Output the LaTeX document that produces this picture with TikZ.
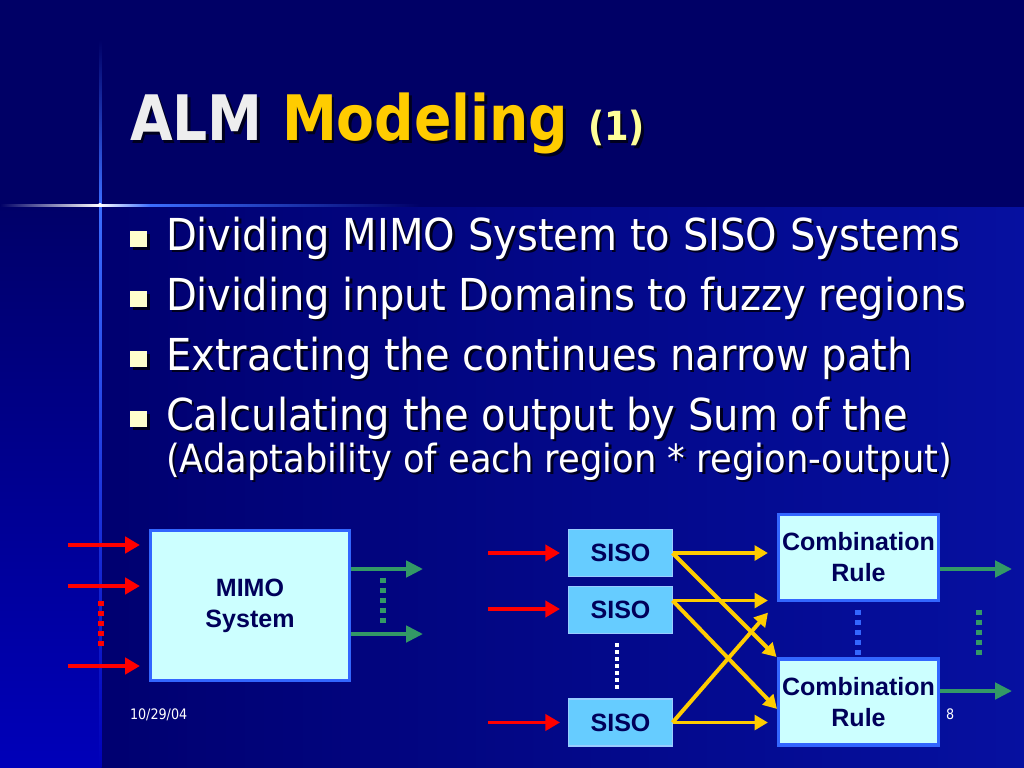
\documentclass[tikz,border=0pt]{standalone}
\usepackage{fontspec}
\setmainfont{DejaVu Sans}[FakeStretch=0.88]
\newfontfamily\bulletfont{DejaVu Sans}[FakeStretch=0.91]
\newfontfamily\arialfont{Liberation Sans}
\usetikzlibrary{arrows.meta}

\definecolor{slidetop}{RGB}{0,0,102}
\definecolor{lowleft}{RGB}{0,0,112}
\definecolor{lowright}{RGB}{6,16,160}
\definecolor{striptop}{RGB}{0,0,105}
\definecolor{stripbot}{RGB}{0,0,185}
\definecolor{crossblue}{RGB}{60,110,255}
\definecolor{shadowcol}{RGB}{0,0,30}
\definecolor{titlegray}{RGB}{238,238,238}
\definecolor{titlegold}{RGB}{255,204,0}
\definecolor{titlepale}{RGB}{255,255,153}
\definecolor{bulletcol}{RGB}{255,255,204}
\definecolor{boxedge}{RGB}{51,102,255}
\definecolor{boxfill}{RGB}{204,255,255}
\definecolor{sisoedge}{RGB}{153,204,255}
\definecolor{sisofill}{RGB}{102,204,255}
\definecolor{boxtext}{RGB}{0,0,90}
\definecolor{arrowred}{RGB}{255,0,0}
\definecolor{arrowyel}{RGB}{255,204,0}
\definecolor{arrowgrn}{RGB}{51,153,102}

% text with a drop shadow: name, position, style, text
\newcommand\shtext[4]{%
  \node[#3, text=shadowcol, shift={(2.5,2.5)}] (#1-sh) at #2 {#4};
  \node[#3] (#1) at #2 {#4};}

\begin{document}
\begin{tikzpicture}[x=0.025cm, y=-0.025cm,
    every node/.style = {inner sep=0pt, outer sep=0pt},
    redarrow/.style   = {line width=2.8pt, draw=arrowred, -{Triangle[length=10.5pt,width=11.5pt]}},
    yelarrow/.style   = {line width=2.8pt, draw=arrowyel, -{Triangle[length=9.5pt,width=10.5pt]}},
    grnarrow/.style   = {line width=2.8pt, draw=arrowgrn, -{Triangle[length=12pt,width=11.5pt]}},
    dots/.style       = {line width=3.6pt, dash pattern=on 3.56pt off 3.56pt},
    boxfont/.style    = {font=\arialfont\bfseries\fontsize{17.8}{22}\selectfont, text=boxtext, align=center},
    bigbox/.style     = {boxfont, draw=boxedge, line width=2.2pt, fill=boxfill},
    sisobox/.style    = {boxfont, draw=sisoedge, line width=0.9pt, fill=sisofill,
                         minimum width=2.6cm, minimum height=1.18cm},
    title/.style      = {anchor=base west, font=\bfseries\fontsize{44.6}{48}\selectfont},
    bullet/.style     = {anchor=base west, text=white, font=\bulletfont\fontsize{31.3}{36}\selectfont},
    small/.style      = {anchor=base west, text=white, font=\fontsize{10.3}{12}\selectfont}]
    \useasboundingbox (0,0) rectangle (1024,768);

    % background
    \fill[slidetop] (0,0) rectangle (1024,768);
    \shade[left color=lowleft, right color=lowright] (100,207) rectangle (1024,768);
    \shade[top color=striptop, bottom color=stripbot] (0,207) rectangle (100,768);
    \shade[top color=slidetop, bottom color=crossblue] (99,40) rectangle (101.5,205);
    \shade[top color=crossblue, bottom color=stripbot] (99,205) rectangle (101.5,768);
    \shade[left color=slidetop, right color=white] (0,204) rectangle (100,206.5);
    \shade[left color=white, right color=crossblue] (100,204) rectangle (150,206.5);
    \shade[left color=crossblue, right color=slidetop] (150,204) rectangle (420,206.5);
    \fill[white] (100,205) circle (2);

    % title
    \shtext{alm}{(130,141)}{title, text=titlegray}{ALM}
    \shtext{modeling}{(282,141)}{title, text=titlegold}{Modeling}
    \shtext{part}{(588,141)}{title, text=titlepale, font=\bfseries\fontsize{28.5}{30}\selectfont}{(1)}

    % bullets
    \foreach \b/\n in {250/1, 310/2, 370/3, 430/4} {
        \fill[shadowcol] (132.5,\b-16.5) rectangle +(17,16);
        \fill[bulletcol] (130,\b-19) rectangle +(17,16);
    }
    \shtext{bul1}{(166,250)}{bullet}{Dividing MIMO System to SISO Systems}
    \shtext{bul2}{(166,310)}{bullet}{Dividing input Domains to fuzzy regions}
    \shtext{bul3}{(166,370)}{bullet}{Extracting the continues narrow path}
    \shtext{bul4}{(166,430)}{bullet}{Calculating the output by Sum of the}
    \shtext{bul5}{(166,472)}{bullet, font=\bulletfont\fontsize{27.6}{32}\selectfont}{(Adaptability of each region * region-output)}

    % left diagram
    \node[bigbox, minimum width=4.975cm, minimum height=3.75cm] (mimo) at (250,605.5) {MIMO\\System};
    \coordinate (in1) at (68,545);
    \coordinate (in2) at (68,586);
    \coordinate (in3) at (68,666);
    \coordinate (out3) at (423,569);
    \coordinate (out4) at (423,634);
    \foreach \c in {in1,in2,in3}
        \draw[redarrow, shorten >=7.5pt] (\c) -- (\c -| mimo.west);
    \foreach \c in {out3,out4}
        \draw[grnarrow, shorten <=1.1pt] (\c -| mimo.east) -- (\c);
    \draw[dots, arrowred] (101,601) -- (101,647);
    \draw[dots, arrowgrn] (383,577.5) -- (383,622.5);

    % right diagram
    \node[sisobox] (siso1) at (620.5,553) {SISO};
    \node[sisobox] (siso2) at (620.5,610) {SISO};
    \node[sisobox] (siso3) at (620.5,722.5) {SISO};
    \node[bigbox, minimum width=4cm, minimum height=2.15cm] (comb1) at (858.5,557.5) {Combination\\Rule};
    \node[bigbox, minimum width=4cm, minimum height=2.15cm] (comb2) at (858.5,702) {Combination\\Rule};
    \coordinate (in4) at (488,553);
    \coordinate (in5) at (488,609);
    \coordinate (in6) at (488,722.5);
    \coordinate (out1) at (1012,569);
    \coordinate (out2) at (1012,691);
    \foreach \c in {in4,in5,in6}
        \draw[redarrow, shorten >=6pt] (\c) -- (\c -| siso1.west);

    \draw[yelarrow, shorten >=7.5pt] (siso1.east) -- (siso1.east -| comb1.west);
    \draw[yelarrow, shorten >=2pt] (siso1.east) -- (comb2.north west);
    \draw[yelarrow, shorten >=7.5pt] (siso2.east |- comb1.south) -- (comb1.south west);
    \draw[yelarrow, shorten >=1.5pt] (siso2.east |- comb1.south) -- ([yshift=-6pt]comb2.west);
    \draw[yelarrow, shorten >=11.4pt] (siso3.east) -- (comb1.south west);
    \draw[yelarrow, shorten >=7.5pt] (siso3.east) -- (siso3.east -| comb2.west);

    \foreach \c/\b in {out1/comb1, out2/comb2}
        \draw[grnarrow, shorten <=1.1pt] (\c -| \b.east) -- (\c);
    \draw[dots, white, line width=2.8pt, dash pattern=on 2.5pt off 2.5pt] (617,643) -- (617,689);
    \draw[dots, boxedge] (858,609.5) -- (858,654.5);
    \draw[dots, arrowgrn] (979,609.5) -- (979,654.5);

    % footer
    \node[small] (date) at (130,719) {10/29/04};
    \node[small] (page) at (946,719) {8};
\end{tikzpicture}
\end{document}
